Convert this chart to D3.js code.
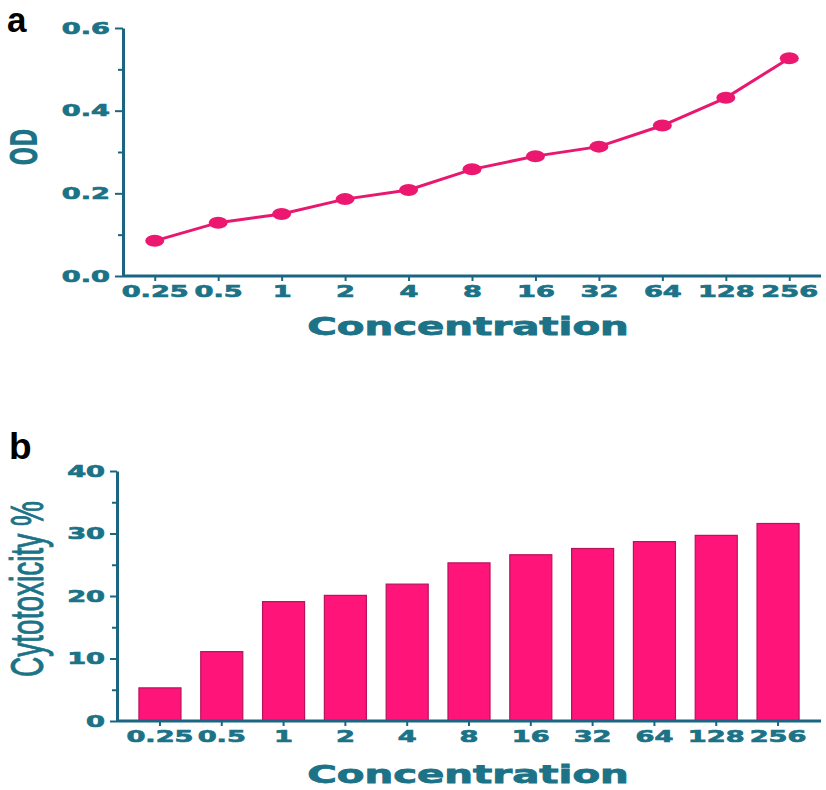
<!DOCTYPE html>
<html><head><meta charset="utf-8">
<script src="https://cdn.jsdelivr.net/npm/d3@7"></script>
<style>
body{margin:0;background:#fff;}
</style></head>
<body><svg id="c" width="826" height="790"></svg>
<script>
const categories = ["0.25","0.5","1","2","4","8","16","32","64","128","256"];
const odValues = [0.085,0.129,0.150,0.186,0.208,0.258,0.290,0.313,0.364,0.431,0.527];
const cytoValues = [5.3,11.1,19.1,20.1,21.9,25.3,26.6,27.6,28.7,29.7,31.6];
const odTicks = [0.0,0.2,0.4,0.6];
const odMinor = [0.1,0.3,0.5];
const cytoTicks = [0,10,20,30,40];
const cytoMinor = [5,15,25,35];

const TEXT = "#1c7387", AXIS = "#1a6682";
const SX = 1.65;
const svg = d3.select("#c");

function styleAxis(g){
  g.select(".domain").attr("stroke", AXIS).attr("stroke-width", 3);
  g.selectAll(".tick line").attr("stroke", AXIS).attr("stroke-width", 2);
  g.selectAll(".tick text")
    .attr("fill", TEXT)
    .attr("stroke", TEXT).attr("stroke-width", 0.7)
    .style("font-family", "DejaVu Sans")
    .style("font-weight", "bold")
    .style("font-size", "16.5px")
    .each(function(){
      const t = d3.select(this);
      const x = +t.attr("x") || 0;
      t.attr("x", x / SX).attr("transform", `scale(${SX},1)`);
    });
}

function label(text, x, y, rotated, opts){
  const t = svg.append("text")
    .attr("text-anchor", "middle")
    .attr("fill", TEXT)
    .attr("stroke", opts.stroke ? TEXT : "none").attr("stroke-width", opts.stroke || 0)
    .style("font-family", opts.family)
    .style("font-weight", opts.weight)
    .style("font-size", opts.size + "px")
    .text(text);
  if(rotated) t.attr("transform", `translate(${x},${y}) rotate(-90) scale(1,${opts.s})`);
  else t.attr("transform", `translate(${x},${y}) scale(${opts.s},1)`);
}

// ---------- Panel a ----------
const ax0 = 123, ax1 = 821, ayTop = 28, ayBot = 276;
const xa = d3.scalePoint().domain(categories).range([ax0, ax1]).padding(0.5);
const ya = d3.scaleLinear().domain([0, 0.6]).range([ayBot, ayTop]);

const gxa = svg.append("g").attr("transform", `translate(0,${ayBot})`)
  .call(d3.axisBottom(xa).tickSize(5).tickSizeOuter(0).tickPadding(4));
gxa.select(".domain").attr("d", `M${ax0},0H${ax1}`);
styleAxis(gxa);

svg.append("g").attr("transform", `translate(${ax0},0)`)
  .call(d3.axisLeft(ya).tickValues(odMinor).tickSize(5).tickFormat(""))
  .call(g => { g.select(".domain").remove(); g.selectAll("line").attr("stroke", AXIS).attr("stroke-width", 2); });
const gya = svg.append("g").attr("transform", `translate(${ax0},0)`)
  .call(d3.axisLeft(ya).tickValues(odTicks).tickFormat(d3.format(".1f")).tickSize(8).tickSizeOuter(0).tickPadding(5));
styleAxis(gya);

const line = d3.line().x((d,i) => xa(categories[i])).y(d => ya(d));
svg.append("path").datum(odValues).attr("d", line)
  .attr("fill", "none").attr("stroke", "#e8176f").attr("stroke-width", 3);
svg.append("g").selectAll("ellipse").data(odValues).join("ellipse")
  .attr("cx", (d,i) => xa(categories[i])).attr("cy", d => ya(d))
  .attr("rx", 9.5).attr("ry", 6).attr("fill", "#ec1870");

label("Concentration", 468, 335, false, {family:"DejaVu Sans", weight:"bold", size:24, s:1.68, stroke:0.8});
label("OD", 37, 147, true, {family:"DejaVu Sans", weight:"bold", size:22, s:1.7});
svg.append("text").attr("x", 7).attr("y", 32).attr("fill", "#000")
  .style("font-family","Liberation Sans").style("font-weight","bold").style("font-size","35px").text("a");

// ---------- Panel b ----------
const bx0 = 117, bx1 = 821, byTop = 471, byBot = 721;
const xb = d3.scaleBand().domain(categories).range([bx0, bx1]).paddingInner(0.32).paddingOuter(0.355);
const yb = d3.scaleLinear().domain([0, 40]).range([byBot, byTop]);

svg.append("g").selectAll("rect").data(cytoValues).join("rect")
  .attr("x", (d,i) => xb(categories[i])).attr("width", xb.bandwidth())
  .attr("y", d => yb(d)).attr("height", d => yb(0) - yb(d))
  .attr("fill", "#ff157a").attr("stroke", "#b8125c").attr("stroke-width", 1.2);

const gxb = svg.append("g").attr("transform", `translate(0,${byBot})`)
  .call(d3.axisBottom(xb).tickSize(5).tickSizeOuter(0).tickPadding(4));
gxb.select(".domain").attr("d", `M${bx0},0H${bx1}`);
styleAxis(gxb);

svg.append("g").attr("transform", `translate(${bx0},0)`)
  .call(d3.axisLeft(yb).tickValues(cytoMinor).tickSize(5).tickFormat(""))
  .call(g => { g.select(".domain").remove(); g.selectAll("line").attr("stroke", AXIS).attr("stroke-width", 2); });
const gyb = svg.append("g").attr("transform", `translate(${bx0},0)`)
  .call(d3.axisLeft(yb).tickValues(cytoTicks).tickSize(7).tickSizeOuter(0).tickPadding(5));
styleAxis(gyb);

label("Concentration", 468, 783, false, {family:"DejaVu Sans", weight:"bold", size:24, s:1.68, stroke:0.8});
label("Cytotoxicity %", 43, 589, true, {family:"Liberation Sans", weight:"normal", size:28, s:1.65, stroke:0.6});
svg.append("text").attr("x", 9).attr("y", 459).attr("fill", "#000")
  .style("font-family","Liberation Sans").style("font-weight","bold").style("font-size","37px").text("b");
</script>
</body></html>
